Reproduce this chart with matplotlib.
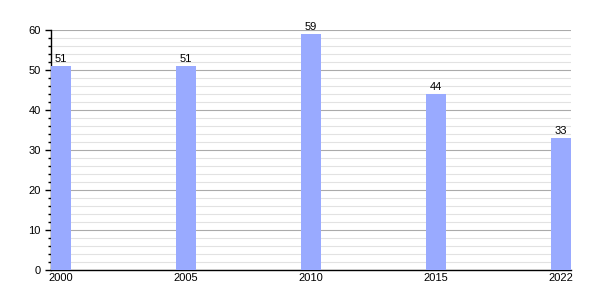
import matplotlib
matplotlib.use("Agg")
import matplotlib.pyplot as plt
from matplotlib.ticker import MultipleLocator

years = ["2000", "2005", "2010", "2015", "2022"]
values = [51, 51, 59, 44, 33]

plt.rcParams['font.family'] = ['Liberation Sans', 'DejaVu Sans']

fig = plt.figure(figsize=(6, 3), dpi=100)
ax = fig.add_axes([0.085, 0.1, 0.867, 0.8])

x = list(range(len(years)))
bars = ax.bar(x, values, width=0.16, color='#99aaff', zorder=3)
for xi, v in zip(x, values):
    ax.text(xi, v + 0.6, str(v), ha='center', va='bottom', fontsize=8, zorder=4)

ax.set_xlim(-0.08, len(years) - 1 + 0.08)
ax.set_ylim(0, 60)
ax.set_xticks(x)
ax.set_xticklabels(years, fontsize=8)
ax.yaxis.set_major_locator(MultipleLocator(10))
ax.yaxis.set_minor_locator(MultipleLocator(2))
ax.tick_params(axis='y', labelsize=8, length=4, width=1)
ax.tick_params(axis='y', which='minor', length=2, width=1)
ax.tick_params(axis='x', length=0, pad=2)

ax.grid(axis='y', which='major', color='#aaaaaa', linewidth=0.8, zorder=1)
ax.grid(axis='y', which='minor', color='#e2e2e2', linewidth=0.8, zorder=0)
ax.set_axisbelow(True)

ax.spines['top'].set_visible(False)
ax.spines['right'].set_visible(False)
ax.spines['left'].set_linewidth(1)
ax.spines['bottom'].set_linewidth(1)

fig.savefig("out.png", dpi=100)
